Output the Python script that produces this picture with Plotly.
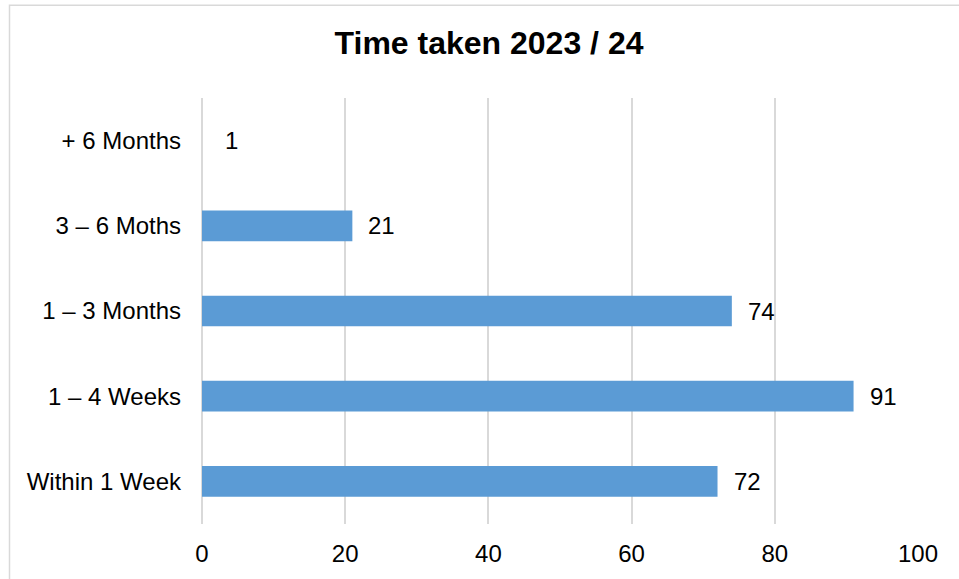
import plotly.graph_objects as go

categories = ["Within 1 Week", "1 – 4 Weeks", "1 – 3 Months", "3 – 6 Moths", "+ 6 Months"]
values = [72, 91, 74, 21, 1]
x_ticks = [0, 20, 40, 60, 80, 100]

bar_color = "#5B9BD5"
colors = [bar_color if v > 1 else "rgba(0,0,0,0)" for v in values]
FONT = "Liberation Sans, Arial, sans-serif"

fig = go.Figure()
fig.add_trace(go.Bar(
    x=values, y=categories, orientation="h",
    marker=dict(color=colors, line=dict(width=0)),
    width=0.36, hoverinfo="x+y",
))

for c, v in zip(categories, values):
    fig.add_annotation(x=v, y=c, text=str(v), showarrow=False,
                       xanchor="left", yanchor="middle", xshift=14,
                       font=dict(family=FONT, size=24, color="#000000"))

L, T, W, H = 202, 98, 716, 429
def px(x):
    return (x - L) / W
def py(y):
    return 1 - (y - T) / H
fig.add_shape(type="rect", xref="paper", yref="paper",
              x0=px(9.5), x1=px(975), y0=py(4.5), y1=py(600),
              line=dict(color="#D9D9D9", width=1.5), fillcolor="rgba(0,0,0,0)", layer="below")

fig.update_layout(
    width=959, height=579,
    margin=dict(l=L, r=959 - L - W, t=T, b=579 - T - H),
    paper_bgcolor="white", plot_bgcolor="white",
    showlegend=False,
    font=dict(family=FONT, size=24, color="#000000"),
    title=dict(text="<b>Time taken 2023 / 24</b>", x=489 / 959, xanchor="center",
               y=1 - 43 / 579, yanchor="middle",
               font=dict(family=FONT, size=32, color="#000000")),
)
fig.update_xaxes(range=[0, 100], tickvals=x_ticks, showgrid=True, gridcolor="#D9D9D9", gridwidth=1.5,
                 zeroline=True, zerolinecolor="#D9D9D9", zerolinewidth=1.5,
                 showline=False, ticks="", ticklabelstandoff=13,
                 tickfont=dict(size=24))
fig.update_yaxes(showgrid=False, zeroline=False, showline=False, ticks="", ticklabelstandoff=20,
                 tickfont=dict(size=24), categoryorder="array", categoryarray=categories)

fig.write_html("out.html", config={"displayModeBar": False},
               post_script="document.body.style.margin='0';")
